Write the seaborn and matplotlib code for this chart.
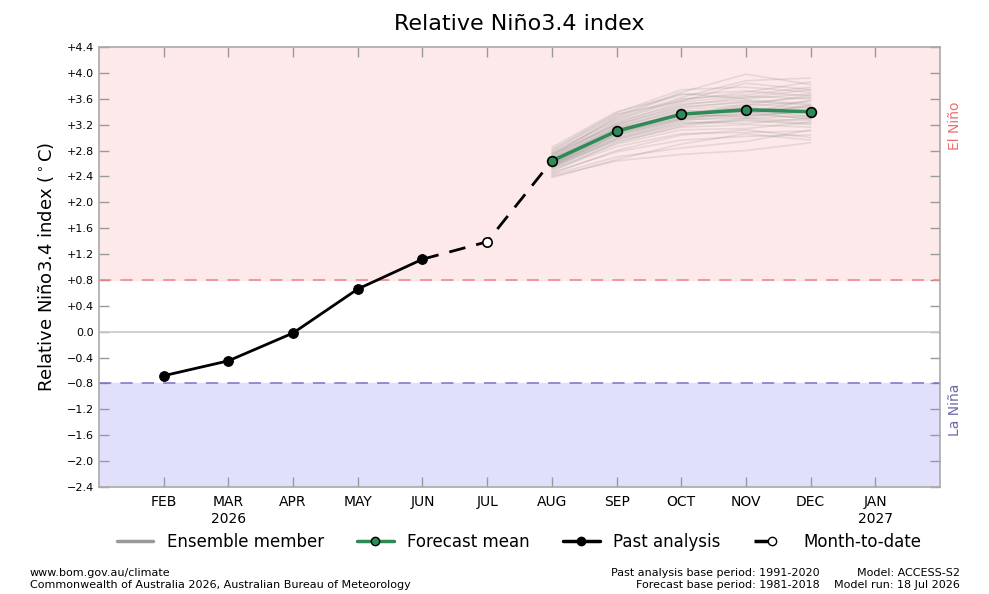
import numpy as np
import pandas as pd
import matplotlib
matplotlib.use("Agg")
import matplotlib.pyplot as plt
import seaborn as sns
from matplotlib.lines import Line2D

# ---- data ----
months = ["FEB", "MAR", "APR", "MAY", "JUN", "JUL", "AUG", "SEP", "OCT", "NOV", "DEC", "JAN"]
month_labels = ["FEB", "MAR\n2026", "APR", "MAY", "JUN", "JUL", "AUG", "SEP", "OCT", "NOV", "DEC", "JAN\n2027"]
past_months = ["FEB", "MAR", "APR", "MAY", "JUN"]
past_values = [-0.68, -0.45, -0.02, 0.66, 1.12]
mtd_months = ["JUN", "JUL", "AUG"]
mtd_values = [1.12, 1.39, 2.64]
fc_months = ["AUG", "SEP", "OCT", "NOV", "DEC"]
fc_mean = [2.64, 3.10, 3.36, 3.43, 3.40]
ensemble = [
    [2.82, 3.38, 3.74, 3.78, 3.70],
    [2.78, 3.34, 3.70, 3.98, 3.82],
    [2.75, 3.30, 3.62, 3.88, 3.92],
    [2.72, 3.26, 3.58, 3.70, 3.86],
    [2.70, 3.22, 3.55, 3.64, 3.60],
    [2.68, 3.20, 3.50, 3.62, 3.74],
    [2.66, 3.18, 3.46, 3.56, 3.50],
    [2.65, 3.15, 3.44, 3.50, 3.66],
    [2.64, 3.12, 3.40, 3.46, 3.44],
    [2.63, 3.10, 3.38, 3.40, 3.36],
    [2.62, 3.08, 3.36, 3.48, 3.56],
    [2.61, 3.06, 3.32, 3.36, 3.30],
    [2.60, 3.04, 3.30, 3.42, 3.48],
    [2.59, 3.02, 3.28, 3.30, 3.26],
    [2.58, 3.00, 3.26, 3.34, 3.40],
    [2.57, 2.98, 3.22, 3.26, 3.20],
    [2.56, 2.96, 3.20, 3.30, 3.34],
    [2.54, 2.94, 3.16, 3.20, 3.16],
    [2.52, 2.90, 3.12, 3.14, 3.24],
    [2.50, 2.86, 3.06, 3.08, 3.10],
    [2.46, 2.78, 2.96, 3.02, 3.04],
    [2.42, 2.70, 2.84, 2.94, 3.12],
    [2.40, 2.64, 2.74, 2.80, 2.92],
    [2.85, 3.40, 3.66, 3.72, 3.64],
    [2.76, 3.28, 3.60, 3.66, 3.78],
    [2.69, 3.24, 3.52, 3.58, 3.52],
    [2.67, 3.16, 3.42, 3.38, 3.58],
    [2.64, 3.14, 3.34, 3.52, 3.46],
    [2.62, 3.12, 3.38, 3.44, 3.32],
    [2.60, 3.10, 3.36, 3.32, 3.42],
    [2.58, 3.06, 3.34, 3.46, 3.38],
    [2.55, 3.04, 3.28, 3.40, 3.28],
    [2.53, 2.98, 3.24, 3.22, 3.30],
    [2.48, 2.92, 3.18, 3.28, 3.22],
    [2.44, 2.80, 3.04, 3.12, 3.00],
    [2.38, 2.66, 2.90, 3.06, 2.96],
    [2.72, 3.32, 3.68, 3.60, 3.68],
    [2.80, 3.36, 3.56, 3.84, 3.74],
    [2.74, 3.20, 3.48, 3.54, 3.62],
    [2.66, 3.08, 3.30, 3.36, 3.50],
]
yticks = [4.4, 4.0, 3.6, 3.2, 2.8, 2.4, 2.0, 1.6, 1.2, 0.8, 0.4, 0.0, -0.4, -0.8, -1.2, -1.6, -2.0, -2.4]

pos = {m: i + 1 for i, m in enumerate(months)}

ens_df = pd.DataFrame(
    [(k, pos[m], v) for k, row in enumerate(ensemble) for m, v in zip(fc_months, row)],
    columns=["member", "x", "y"],
)
past_df = pd.DataFrame({"x": [pos[m] for m in past_months], "y": past_values})
mtd_df = pd.DataFrame({"x": [pos[m] for m in mtd_months], "y": mtd_values})
fc_df = pd.DataFrame({"x": [pos[m] for m in fc_months], "y": fc_mean})

sns.set_style("white")
plt.rcParams["font.family"] = ["DejaVu Sans"]
plt.rcParams["text.color"] = "black"
plt.rcParams["axes.labelcolor"] = "black"

fig = plt.figure(figsize=(9.89, 5.94), dpi=100)
ax = fig.add_axes([0.1001, 0.1801, 0.8504, 0.7408])

ax.set_xlim(0, 13)
ax.set_ylim(-2.4, 4.4)
ax.axhspan(0.8, 4.4, color="#fde9e9", zorder=0)
ax.axhspan(-2.4, -0.8, color="#e0e0fd", zorder=0)
ax.axhline(0.8, color="#f08080", ls=(0, (8, 6)), lw=1.1, zorder=1)
ax.axhline(-0.8, color="#7474c8", ls=(0, (8, 6)), lw=1.1, zorder=1)
ax.axhline(0.0, color="#c8c8c8", lw=1.2, zorder=1)

sns.lineplot(data=ens_df, x="x", y="y", units="member", estimator=None,
             color="#808080", alpha=0.18, lw=1.2, ax=ax, legend=False, zorder=2)
sns.lineplot(data=mtd_df, x="x", y="y", color="black", lw=2, ax=ax,
             dashes=False, legend=False, zorder=3)
ax.lines[-1].set_dashes((6, 4))
sns.lineplot(data=past_df, x="x", y="y", color="black", lw=2, marker="o",
             markersize=7, markeredgecolor="black", ax=ax, legend=False, zorder=4)
sns.lineplot(data=fc_df, x="x", y="y", color="#2e8b57", lw=2.5, marker="o",
             markersize=7, markerfacecolor="#2e8b57", markeredgecolor="black",
             markeredgewidth=1.2, ax=ax, legend=False, zorder=5)
sns.scatterplot(x=[pos["JUL"]], y=[mtd_values[1]], color="white", edgecolor="black",
                linewidth=1.2, s=45, ax=ax, zorder=6, legend=False)

ax.set_xticks(range(1, 13))
ax.set_xticklabels(month_labels, fontsize=10)
ax.set_yticks(yticks)
ax.set_yticklabels([("0.0" if v == 0 else f"{v:+.1f}".replace("-", "\u2212")) for v in yticks], fontsize=8)
ax.tick_params(axis="both", direction="in", length=7, color="#999999", width=1,
               labelcolor="black", top=True, right=True, bottom=True, left=True)
ax.tick_params(axis="x", pad=6)
for s in ax.spines.values():
    s.set_color("#aaaaaa")
    s.set_linewidth(1.2)
ax.set_xlabel("")
ax.set_ylabel("Relative Ni\u00f1o3.4 index ($^\\circ$C)", fontsize=13, labelpad=8)
ax.set_title("Relative Ni\u00f1o3.4 index", fontsize=16, pad=12, color="black")

ax.text(1.018, 0.82, "El Ni\u00f1o", transform=ax.transAxes, rotation=90,
        color="#f07070", fontsize=10, ha="center", va="center")
ax.text(1.018, 0.175, "La Ni\u00f1a", transform=ax.transAxes, rotation=90,
        color="#6a6aaa", fontsize=10, ha="center", va="center")

handles = [
    Line2D([], [], color="#999999", lw=2.5),
    Line2D([], [], color="#2e8b57", lw=2.5, marker="o", markersize=6,
           markerfacecolor="#2e8b57", markeredgecolor="black"),
    Line2D([], [], color="black", lw=2.5, marker="o", markersize=6),
    Line2D([], [], color="black", lw=2.5, ls=(0, (4, 12)), marker="o", markersize=6,
           markerfacecolor="white", markeredgecolor="black"),
]
fig.legend(handles, ["Ensemble member", "Forecast mean", "Past analysis", "Month-to-date"],
           loc="center", bbox_to_anchor=(0.525, 0.087), ncol=4, frameon=False,
           fontsize=12, handlelength=2.2, columnspacing=2.0)

fig.text(30 / 989, 1 - 573 / 594, "www.bom.gov.au/climate", fontsize=8, va="center")
fig.text(30 / 989, 1 - 585 / 594, "Commonwealth of Australia 2026, Australian Bureau of Meteorology",
         fontsize=8, va="center")
fig.text(820 / 989, 1 - 573 / 594, "Past analysis base period: 1991-2020", fontsize=8,
         va="center", ha="right")
fig.text(820 / 989, 1 - 585 / 594, "Forecast base period: 1981-2018", fontsize=8,
         va="center", ha="right")
fig.text(960 / 989, 1 - 573 / 594, "Model: ACCESS-S2", fontsize=8, va="center", ha="right")
fig.text(960 / 989, 1 - 585 / 594, "Model run: 18 Jul 2026", fontsize=8, va="center", ha="right")

fig.savefig("out.png", dpi=100)
